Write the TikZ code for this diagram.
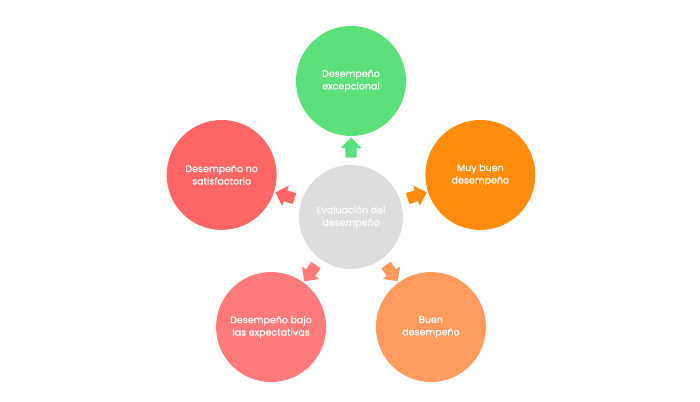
\documentclass[tikz,border=0pt]{standalone}
\usepackage{fontspec}
\setmainfont{Poppins}[FakeBold=0.6]
\usetikzlibrary{calc,shapes.arrows}
\definecolor{evalgray}{HTML}{DCDCDC}
\definecolor{topgreen}{HTML}{5BE07C}
\definecolor{rightorange}{HTML}{FF8C0C}
\definecolor{leftred}{HTML}{FF6666}
\definecolor{lowpink}{HTML}{FF7A7A}
\definecolor{lowpeach}{HTML}{FF9B5E}

\begin{document}
\begin{tikzpicture}[x=1pt,y=1pt,
  bubble/.style={circle, minimum size=110pt, inner sep=0pt, text=white, align=center,
    font=\fontsize{9.5}{12.5}\selectfont},
  pointer/.style={single arrow, minimum height=20pt, minimum width=21pt, inner xsep=0pt,
    inner ysep=5.5pt, single arrow head extend=5pt}]
\useasboundingbox (0,0) rectangle (700,401);
\path (351,184) node[bubble, minimum size=104pt, fill=evalgray] (eval) {Evaluación del\\desempeño};
\path ($(eval)+(90:136)$) node[bubble, fill=topgreen] (excep) {Desempeño\\excepcional};
\path ($(eval)+(18:136)$) node[bubble, fill=rightorange] (muybuen) {Muy buen\\desempeño};
\path ($(eval)+(162:136)$) node[bubble, fill=leftred] (nosat) {Desempeño no\\satisfactorio};
\path ($(eval)+(234:136)$) node[bubble, fill=lowpink] (bajo) {Desempeño bajo\\las expectativas};
\path ($(eval)+(306:136)$) node[bubble, fill=lowpeach] (buen) {Buen\\desempeño};
% arrows from the center to each bubble
\foreach \target/\ang/\col in {excep/90/topgreen, muybuen/18/rightorange, nosat/162/leftred,
    bajo/234/lowpink, buen/306/lowpeach}
  \path ($(eval)!0.49!(\target)$) node[pointer, fill=\col, rotate=\ang] {};
\end{tikzpicture}
\end{document}
